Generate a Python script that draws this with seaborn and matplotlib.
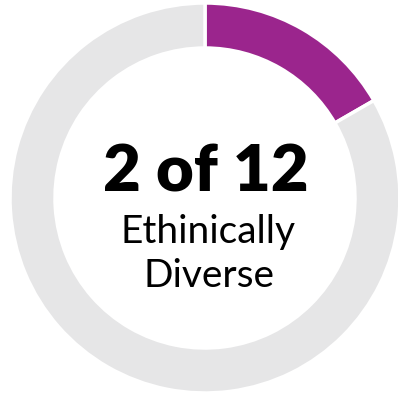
import matplotlib
matplotlib.use("Agg")
import matplotlib.pyplot as plt
import seaborn as sns

categories = ["Ethnically Diverse", "Other"]
values = [2, 10]
colors = ["#9B258D", "#E6E6E7"]
headline = "2 of 12"
subtitle_lines = ["Ethinically", "Diverse"]

sns.set_theme(style="white")
plt.rcParams['font.family'] = ['Lato', 'DejaVu Sans']

fig = plt.figure(figsize=(3.98, 3.96), dpi=100)
ax = fig.add_axes([0, 0, 1, 1])
R = 195.0
ax.pie(values, colors=colors, startangle=90, counterclock=False, radius=1.0,
       wedgeprops=dict(width=45 / R, edgecolor="white", linewidth=2.5))
ax.set_xlim(-205 / R, 193 / R)
ax.set_ylim(-198 / R, 198 / R)
ax.set_aspect("equal")
ax.axis("off")

ax.text(0.005, 0.13, headline, ha="center", va="center", fontsize=47,
        fontweight="heavy", color="black")
ax.text(0.015, -0.175, subtitle_lines[0], ha="center", va="center", fontsize=28,
        fontweight="normal", color="black")
ax.text(0.02, -0.40, subtitle_lines[1], ha="center", va="center", fontsize=28,
        fontweight="normal", color="black")

fig.savefig("out.png", dpi=100, facecolor="white")
